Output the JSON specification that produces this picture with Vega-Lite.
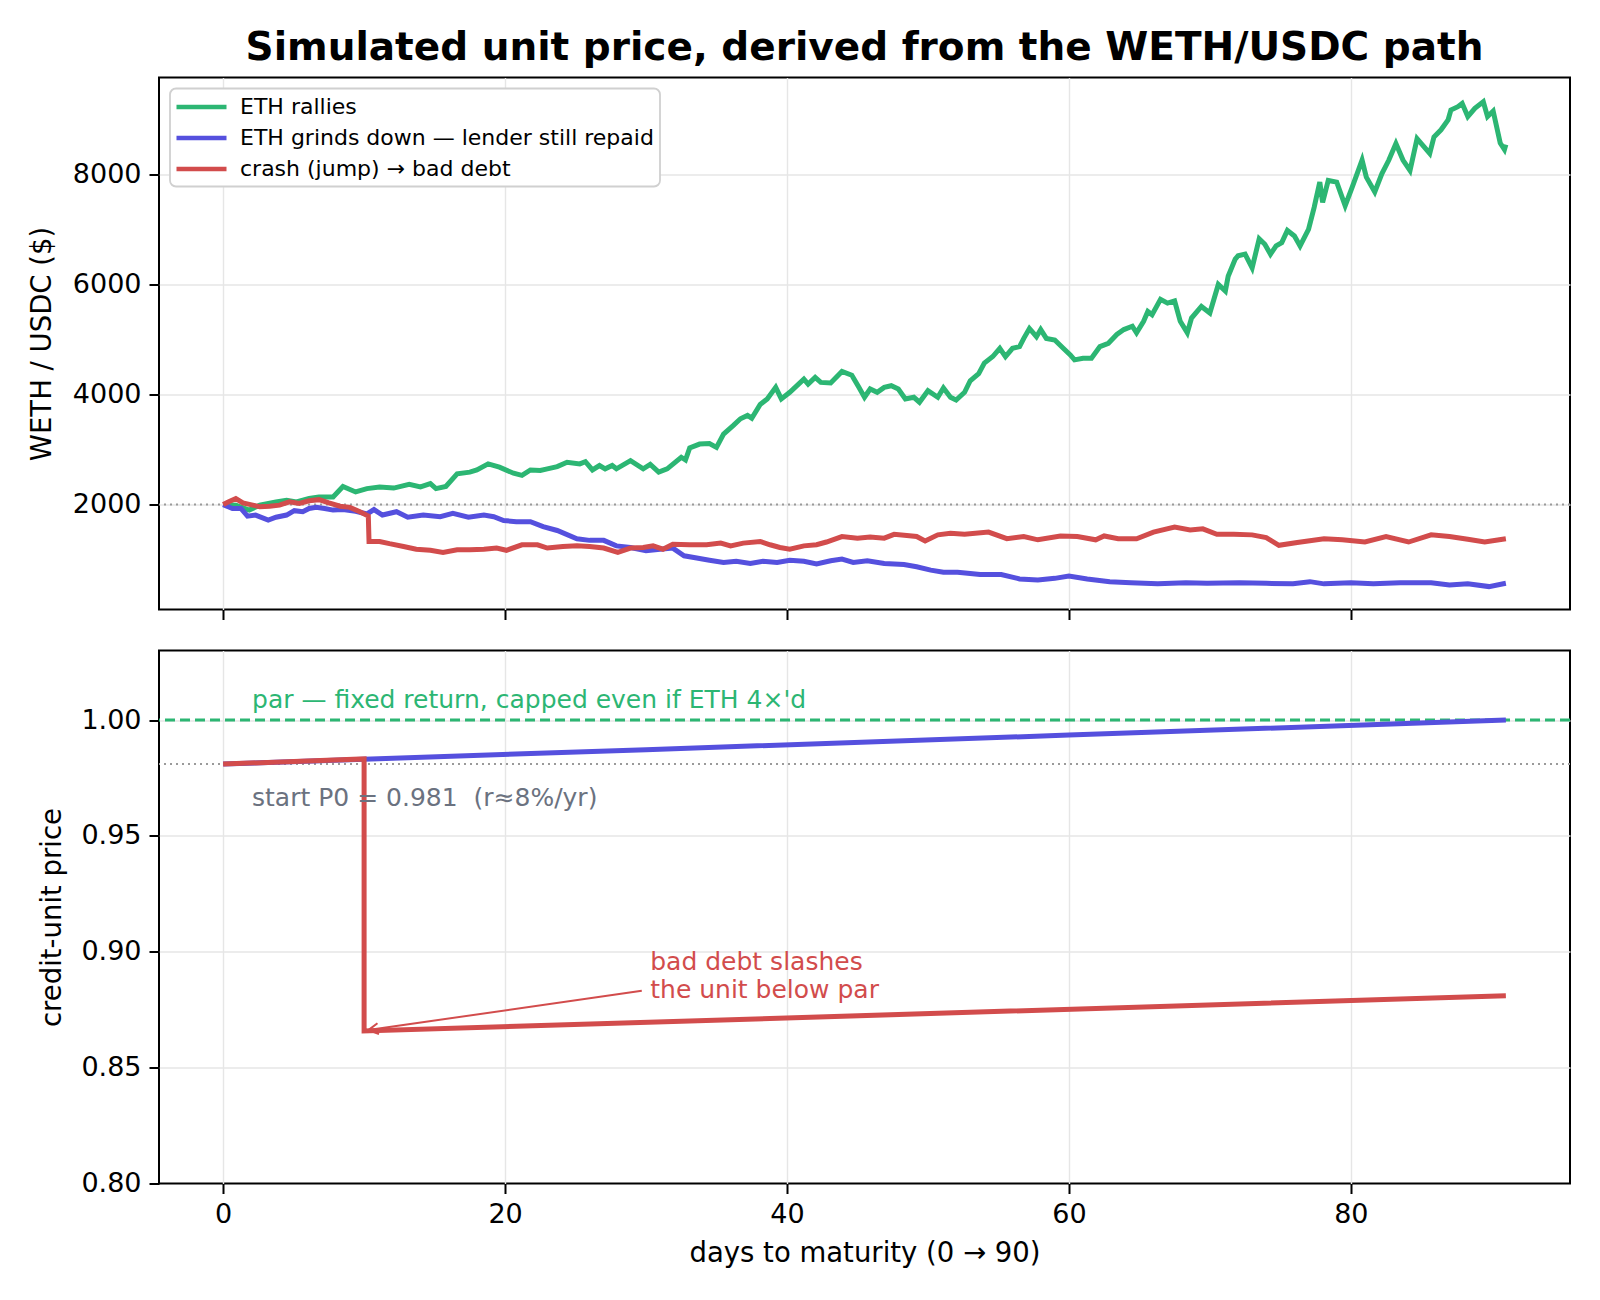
{
  "$schema": "https://vega.github.io/schema/vega-lite/v6.json",
  "background": "white",
  "padding": {"left": 27, "top": 27.5, "right": 30, "bottom": 20},
  "config": {
    "font": "DejaVu Sans",
    "view": {"stroke": "#000000", "strokeWidth": 2},
    "axis": {
      "domain": false,
      "grid": true,
      "gridColor": "#e6e6e6",
      "gridWidth": 1.4,
      "tickColor": "#000000",
      "tickWidth": 2,
      "tickSize": 10,
      "labelFontSize": 27,
      "labelColor": "#000000",
      "labelPadding": 8,
      "titleFontSize": 27.5,
      "titleFontWeight": "normal",
      "titleColor": "#000000"
    },
    "legend": {"strokeWidth": 1.8}
  },
  "datasets": {
    "paths": [
      {"series": "ETH rallies", "day": 0, "price": 2000},
      {"series": "ETH rallies", "day": 0.9, "price": 1990},
      {"series": "ETH rallies", "day": 1.85, "price": 1900},
      {"series": "ETH rallies", "day": 2.6, "price": 1990},
      {"series": "ETH rallies", "day": 3.75, "price": 2050},
      {"series": "ETH rallies", "day": 4.5, "price": 2080},
      {"series": "ETH rallies", "day": 5.2, "price": 2050},
      {"series": "ETH rallies", "day": 6.1, "price": 2110},
      {"series": "ETH rallies", "day": 6.8, "price": 2140},
      {"series": "ETH rallies", "day": 7.8, "price": 2140},
      {"series": "ETH rallies", "day": 8.5, "price": 2330},
      {"series": "ETH rallies", "day": 9.4, "price": 2230},
      {"series": "ETH rallies", "day": 10.2, "price": 2290},
      {"series": "ETH rallies", "day": 11.1, "price": 2320},
      {"series": "ETH rallies", "day": 12.1, "price": 2300},
      {"series": "ETH rallies", "day": 13.2, "price": 2370},
      {"series": "ETH rallies", "day": 14.0, "price": 2320},
      {"series": "ETH rallies", "day": 14.7, "price": 2380},
      {"series": "ETH rallies", "day": 15.1, "price": 2290},
      {"series": "ETH rallies", "day": 15.8, "price": 2330},
      {"series": "ETH rallies", "day": 16.6, "price": 2560},
      {"series": "ETH rallies", "day": 17.5, "price": 2590},
      {"series": "ETH rallies", "day": 18.0, "price": 2630},
      {"series": "ETH rallies", "day": 18.8, "price": 2740},
      {"series": "ETH rallies", "day": 19.6, "price": 2680},
      {"series": "ETH rallies", "day": 20.6, "price": 2570},
      {"series": "ETH rallies", "day": 21.2, "price": 2530},
      {"series": "ETH rallies", "day": 21.8, "price": 2630},
      {"series": "ETH rallies", "day": 22.5, "price": 2620},
      {"series": "ETH rallies", "day": 23.0, "price": 2650},
      {"series": "ETH rallies", "day": 23.7, "price": 2690},
      {"series": "ETH rallies", "day": 24.4, "price": 2770},
      {"series": "ETH rallies", "day": 25.3, "price": 2740},
      {"series": "ETH rallies", "day": 25.7, "price": 2780},
      {"series": "ETH rallies", "day": 26.2, "price": 2630},
      {"series": "ETH rallies", "day": 26.7, "price": 2710},
      {"series": "ETH rallies", "day": 27.1, "price": 2650},
      {"series": "ETH rallies", "day": 27.6, "price": 2710},
      {"series": "ETH rallies", "day": 27.9, "price": 2650},
      {"series": "ETH rallies", "day": 28.9, "price": 2800},
      {"series": "ETH rallies", "day": 29.8, "price": 2650},
      {"series": "ETH rallies", "day": 30.3, "price": 2730},
      {"series": "ETH rallies", "day": 30.9, "price": 2590},
      {"series": "ETH rallies", "day": 31.5, "price": 2650},
      {"series": "ETH rallies", "day": 32.5, "price": 2860},
      {"series": "ETH rallies", "day": 32.8, "price": 2810},
      {"series": "ETH rallies", "day": 33.1, "price": 3030},
      {"series": "ETH rallies", "day": 33.8, "price": 3100},
      {"series": "ETH rallies", "day": 34.5, "price": 3110},
      {"series": "ETH rallies", "day": 35.0, "price": 3040},
      {"series": "ETH rallies", "day": 35.5, "price": 3280},
      {"series": "ETH rallies", "day": 36.2, "price": 3440},
      {"series": "ETH rallies", "day": 36.7, "price": 3560},
      {"series": "ETH rallies", "day": 37.2, "price": 3620},
      {"series": "ETH rallies", "day": 37.5, "price": 3570},
      {"series": "ETH rallies", "day": 38.1, "price": 3820},
      {"series": "ETH rallies", "day": 38.6, "price": 3920},
      {"series": "ETH rallies", "day": 39.2, "price": 4130},
      {"series": "ETH rallies", "day": 39.6, "price": 3920},
      {"series": "ETH rallies", "day": 40.2, "price": 4040},
      {"series": "ETH rallies", "day": 41.2, "price": 4280},
      {"series": "ETH rallies", "day": 41.5, "price": 4190},
      {"series": "ETH rallies", "day": 42.0, "price": 4310},
      {"series": "ETH rallies", "day": 42.4, "price": 4220},
      {"series": "ETH rallies", "day": 43.1, "price": 4210},
      {"series": "ETH rallies", "day": 43.9, "price": 4420},
      {"series": "ETH rallies", "day": 44.6, "price": 4350},
      {"series": "ETH rallies", "day": 45.1, "price": 4130},
      {"series": "ETH rallies", "day": 45.5, "price": 3950},
      {"series": "ETH rallies", "day": 45.9, "price": 4100},
      {"series": "ETH rallies", "day": 46.4, "price": 4040},
      {"series": "ETH rallies", "day": 46.9, "price": 4130},
      {"series": "ETH rallies", "day": 47.4, "price": 4160},
      {"series": "ETH rallies", "day": 47.9, "price": 4100},
      {"series": "ETH rallies", "day": 48.4, "price": 3920},
      {"series": "ETH rallies", "day": 49.0, "price": 3950},
      {"series": "ETH rallies", "day": 49.4, "price": 3860},
      {"series": "ETH rallies", "day": 50.0, "price": 4070},
      {"series": "ETH rallies", "day": 50.7, "price": 3950},
      {"series": "ETH rallies", "day": 51.1, "price": 4120},
      {"series": "ETH rallies", "day": 51.6, "price": 3950},
      {"series": "ETH rallies", "day": 52.0, "price": 3900},
      {"series": "ETH rallies", "day": 52.6, "price": 4040},
      {"series": "ETH rallies", "day": 53.0, "price": 4250},
      {"series": "ETH rallies", "day": 53.6, "price": 4380},
      {"series": "ETH rallies", "day": 54.0, "price": 4570},
      {"series": "ETH rallies", "day": 54.6, "price": 4690},
      {"series": "ETH rallies", "day": 55.1, "price": 4840},
      {"series": "ETH rallies", "day": 55.5, "price": 4690},
      {"series": "ETH rallies", "day": 56.0, "price": 4840},
      {"series": "ETH rallies", "day": 56.5, "price": 4870},
      {"series": "ETH rallies", "day": 56.8, "price": 5020},
      {"series": "ETH rallies", "day": 57.2, "price": 5200},
      {"series": "ETH rallies", "day": 57.7, "price": 5050},
      {"series": "ETH rallies", "day": 58.0, "price": 5180},
      {"series": "ETH rallies", "day": 58.4, "price": 5020},
      {"series": "ETH rallies", "day": 59.0, "price": 4990},
      {"series": "ETH rallies", "day": 59.6, "price": 4840},
      {"series": "ETH rallies", "day": 60.1, "price": 4720},
      {"series": "ETH rallies", "day": 60.4, "price": 4630},
      {"series": "ETH rallies", "day": 61.0, "price": 4660},
      {"series": "ETH rallies", "day": 61.6, "price": 4660},
      {"series": "ETH rallies", "day": 62.2, "price": 4870},
      {"series": "ETH rallies", "day": 62.8, "price": 4930},
      {"series": "ETH rallies", "day": 63.4, "price": 5090},
      {"series": "ETH rallies", "day": 63.9, "price": 5180},
      {"series": "ETH rallies", "day": 64.5, "price": 5240},
      {"series": "ETH rallies", "day": 64.8, "price": 5120},
      {"series": "ETH rallies", "day": 65.3, "price": 5330},
      {"series": "ETH rallies", "day": 65.6, "price": 5510},
      {"series": "ETH rallies", "day": 65.9, "price": 5450},
      {"series": "ETH rallies", "day": 66.5, "price": 5730},
      {"series": "ETH rallies", "day": 67.0, "price": 5660},
      {"series": "ETH rallies", "day": 67.5, "price": 5700},
      {"series": "ETH rallies", "day": 67.9, "price": 5330},
      {"series": "ETH rallies", "day": 68.4, "price": 5120},
      {"series": "ETH rallies", "day": 68.7, "price": 5390},
      {"series": "ETH rallies", "day": 69.4, "price": 5600},
      {"series": "ETH rallies", "day": 70.0, "price": 5480},
      {"series": "ETH rallies", "day": 70.6, "price": 6000},
      {"series": "ETH rallies", "day": 71.1, "price": 5880},
      {"series": "ETH rallies", "day": 71.3, "price": 6150},
      {"series": "ETH rallies", "day": 71.8, "price": 6460},
      {"series": "ETH rallies", "day": 72.0, "price": 6520},
      {"series": "ETH rallies", "day": 72.5, "price": 6550},
      {"series": "ETH rallies", "day": 73.0, "price": 6300},
      {"series": "ETH rallies", "day": 73.5, "price": 6830},
      {"series": "ETH rallies", "day": 73.9, "price": 6730},
      {"series": "ETH rallies", "day": 74.3, "price": 6550},
      {"series": "ETH rallies", "day": 74.7, "price": 6700},
      {"series": "ETH rallies", "day": 75.1, "price": 6760},
      {"series": "ETH rallies", "day": 75.5, "price": 6980},
      {"series": "ETH rallies", "day": 76.0, "price": 6880},
      {"series": "ETH rallies", "day": 76.4, "price": 6700},
      {"series": "ETH rallies", "day": 77.0, "price": 7000},
      {"series": "ETH rallies", "day": 77.4, "price": 7400},
      {"series": "ETH rallies", "day": 77.8, "price": 7860},
      {"series": "ETH rallies", "day": 78.0, "price": 7490},
      {"series": "ETH rallies", "day": 78.4, "price": 7890},
      {"series": "ETH rallies", "day": 79.0, "price": 7860},
      {"series": "ETH rallies", "day": 79.6, "price": 7430},
      {"series": "ETH rallies", "day": 80.1, "price": 7770},
      {"series": "ETH rallies", "day": 80.8, "price": 8260},
      {"series": "ETH rallies", "day": 81.1, "price": 7950},
      {"series": "ETH rallies", "day": 81.7, "price": 7680},
      {"series": "ETH rallies", "day": 82.2, "price": 8010},
      {"series": "ETH rallies", "day": 82.7, "price": 8260},
      {"series": "ETH rallies", "day": 83.2, "price": 8560},
      {"series": "ETH rallies", "day": 83.7, "price": 8260},
      {"series": "ETH rallies", "day": 84.2, "price": 8070},
      {"series": "ETH rallies", "day": 84.7, "price": 8650},
      {"series": "ETH rallies", "day": 85.2, "price": 8500},
      {"series": "ETH rallies", "day": 85.6, "price": 8380},
      {"series": "ETH rallies", "day": 85.9, "price": 8680},
      {"series": "ETH rallies", "day": 86.4, "price": 8810},
      {"series": "ETH rallies", "day": 86.9, "price": 8990},
      {"series": "ETH rallies", "day": 87.1, "price": 9170},
      {"series": "ETH rallies", "day": 87.6, "price": 9230},
      {"series": "ETH rallies", "day": 87.9, "price": 9290},
      {"series": "ETH rallies", "day": 88.3, "price": 9050},
      {"series": "ETH rallies", "day": 88.8, "price": 9200},
      {"series": "ETH rallies", "day": 89.4, "price": 9320},
      {"series": "ETH rallies", "day": 89.7, "price": 9050},
      {"series": "ETH rallies", "day": 90.1, "price": 9150},
      {"series": "ETH rallies", "day": 90.6, "price": 8570},
      {"series": "ETH rallies", "day": 90.9, "price": 8450},
      {"series": "ETH rallies", "day": 91.0, "price": 8540},

      {"series": "ETH grinds down — lender still repaid", "day": 0, "price": 2000},
      {"series": "ETH grinds down — lender still repaid", "day": 0.66, "price": 1930},
      {"series": "ETH grinds down — lender still repaid", "day": 1.26, "price": 1930},
      {"series": "ETH grinds down — lender still repaid", "day": 1.73, "price": 1790},
      {"series": "ETH grinds down — lender still repaid", "day": 2.3, "price": 1810},
      {"series": "ETH grinds down — lender still repaid", "day": 3.2, "price": 1720},
      {"series": "ETH grinds down — lender still repaid", "day": 3.75, "price": 1770},
      {"series": "ETH grinds down — lender still repaid", "day": 4.5, "price": 1810},
      {"series": "ETH grinds down — lender still repaid", "day": 5.05, "price": 1890},
      {"series": "ETH grinds down — lender still repaid", "day": 5.65, "price": 1870},
      {"series": "ETH grinds down — lender still repaid", "day": 6.1, "price": 1930},
      {"series": "ETH grinds down — lender still repaid", "day": 6.6, "price": 1950},
      {"series": "ETH grinds down — lender still repaid", "day": 7.2, "price": 1930},
      {"series": "ETH grinds down — lender still repaid", "day": 7.8, "price": 1900},
      {"series": "ETH grinds down — lender still repaid", "day": 8.5, "price": 1910},
      {"series": "ETH grinds down — lender still repaid", "day": 9.4, "price": 1880},
      {"series": "ETH grinds down — lender still repaid", "day": 10.2, "price": 1830},
      {"series": "ETH grinds down — lender still repaid", "day": 10.7, "price": 1910},
      {"series": "ETH grinds down — lender still repaid", "day": 11.3, "price": 1810},
      {"series": "ETH grinds down — lender still repaid", "day": 12.3, "price": 1870},
      {"series": "ETH grinds down — lender still repaid", "day": 13.1, "price": 1770},
      {"series": "ETH grinds down — lender still repaid", "day": 14.2, "price": 1810},
      {"series": "ETH grinds down — lender still repaid", "day": 15.4, "price": 1780},
      {"series": "ETH grinds down — lender still repaid", "day": 16.3, "price": 1840},
      {"series": "ETH grinds down — lender still repaid", "day": 17.4, "price": 1770},
      {"series": "ETH grinds down — lender still repaid", "day": 18.5, "price": 1810},
      {"series": "ETH grinds down — lender still repaid", "day": 19.2, "price": 1780},
      {"series": "ETH grinds down — lender still repaid", "day": 19.9, "price": 1710},
      {"series": "ETH grinds down — lender still repaid", "day": 20.8, "price": 1690},
      {"series": "ETH grinds down — lender still repaid", "day": 21.8, "price": 1690},
      {"series": "ETH grinds down — lender still repaid", "day": 22.7, "price": 1600},
      {"series": "ETH grinds down — lender still repaid", "day": 23.7, "price": 1530},
      {"series": "ETH grinds down — lender still repaid", "day": 25.1, "price": 1380},
      {"series": "ETH grinds down — lender still repaid", "day": 26.0, "price": 1350},
      {"series": "ETH grinds down — lender still repaid", "day": 27.0, "price": 1350},
      {"series": "ETH grinds down — lender still repaid", "day": 27.9, "price": 1250},
      {"series": "ETH grinds down — lender still repaid", "day": 28.9, "price": 1220},
      {"series": "ETH grinds down — lender still repaid", "day": 30.0, "price": 1160},
      {"series": "ETH grinds down — lender still repaid", "day": 31.0, "price": 1190},
      {"series": "ETH grinds down — lender still repaid", "day": 31.9, "price": 1210},
      {"series": "ETH grinds down — lender still repaid", "day": 32.7, "price": 1070},
      {"series": "ETH grinds down — lender still repaid", "day": 33.6, "price": 1030},
      {"series": "ETH grinds down — lender still repaid", "day": 34.5, "price": 990},
      {"series": "ETH grinds down — lender still repaid", "day": 35.5, "price": 950},
      {"series": "ETH grinds down — lender still repaid", "day": 36.4, "price": 970},
      {"series": "ETH grinds down — lender still repaid", "day": 37.4, "price": 930},
      {"series": "ETH grinds down — lender still repaid", "day": 38.3, "price": 970},
      {"series": "ETH grinds down — lender still repaid", "day": 39.3, "price": 950},
      {"series": "ETH grinds down — lender still repaid", "day": 40.2, "price": 990},
      {"series": "ETH grinds down — lender still repaid", "day": 41.2, "price": 970},
      {"series": "ETH grinds down — lender still repaid", "day": 42.1, "price": 920},
      {"series": "ETH grinds down — lender still repaid", "day": 43.1, "price": 980},
      {"series": "ETH grinds down — lender still repaid", "day": 43.9, "price": 1010},
      {"series": "ETH grinds down — lender still repaid", "day": 44.7, "price": 950},
      {"series": "ETH grinds down — lender still repaid", "day": 45.7, "price": 980},
      {"series": "ETH grinds down — lender still repaid", "day": 46.9, "price": 930},
      {"series": "ETH grinds down — lender still repaid", "day": 48.3, "price": 910},
      {"series": "ETH grinds down — lender still repaid", "day": 49.2, "price": 870},
      {"series": "ETH grinds down — lender still repaid", "day": 50.2, "price": 810},
      {"series": "ETH grinds down — lender still repaid", "day": 51.1, "price": 770},
      {"series": "ETH grinds down — lender still repaid", "day": 52.1, "price": 770},
      {"series": "ETH grinds down — lender still repaid", "day": 53.0, "price": 750},
      {"series": "ETH grinds down — lender still repaid", "day": 53.7, "price": 730},
      {"series": "ETH grinds down — lender still repaid", "day": 55.2, "price": 730},
      {"series": "ETH grinds down — lender still repaid", "day": 56.5, "price": 650},
      {"series": "ETH grinds down — lender still repaid", "day": 57.8, "price": 630},
      {"series": "ETH grinds down — lender still repaid", "day": 59.0, "price": 660},
      {"series": "ETH grinds down — lender still repaid", "day": 60.0, "price": 700},
      {"series": "ETH grinds down — lender still repaid", "day": 61.3, "price": 650},
      {"series": "ETH grinds down — lender still repaid", "day": 62.9, "price": 600},
      {"series": "ETH grinds down — lender still repaid", "day": 64.4, "price": 580},
      {"series": "ETH grinds down — lender still repaid", "day": 66.3, "price": 560},
      {"series": "ETH grinds down — lender still repaid", "day": 68.3, "price": 580},
      {"series": "ETH grinds down — lender still repaid", "day": 69.8, "price": 570},
      {"series": "ETH grinds down — lender still repaid", "day": 72.1, "price": 580},
      {"series": "ETH grinds down — lender still repaid", "day": 74.0, "price": 570},
      {"series": "ETH grinds down — lender still repaid", "day": 75.9, "price": 560},
      {"series": "ETH grinds down — lender still repaid", "day": 77.1, "price": 600},
      {"series": "ETH grinds down — lender still repaid", "day": 78.1, "price": 560},
      {"series": "ETH grinds down — lender still repaid", "day": 80.0, "price": 580},
      {"series": "ETH grinds down — lender still repaid", "day": 81.6, "price": 560},
      {"series": "ETH grinds down — lender still repaid", "day": 83.5, "price": 580},
      {"series": "ETH grinds down — lender still repaid", "day": 85.7, "price": 580},
      {"series": "ETH grinds down — lender still repaid", "day": 87.0, "price": 540},
      {"series": "ETH grinds down — lender still repaid", "day": 88.3, "price": 560},
      {"series": "ETH grinds down — lender still repaid", "day": 89.8, "price": 510},
      {"series": "ETH grinds down — lender still repaid", "day": 91.0, "price": 570},

      {"series": "crash (jump) → bad debt", "day": 0, "price": 2000},
      {"series": "crash (jump) → bad debt", "day": 0.4, "price": 2050},
      {"series": "crash (jump) → bad debt", "day": 0.9, "price": 2110},
      {"series": "crash (jump) → bad debt", "day": 1.4, "price": 2030},
      {"series": "crash (jump) → bad debt", "day": 2.1, "price": 1990},
      {"series": "crash (jump) → bad debt", "day": 2.6, "price": 1960},
      {"series": "crash (jump) → bad debt", "day": 3.3, "price": 1970},
      {"series": "crash (jump) → bad debt", "day": 4.0, "price": 1990},
      {"series": "crash (jump) → bad debt", "day": 4.7, "price": 2050},
      {"series": "crash (jump) → bad debt", "day": 5.4, "price": 2020},
      {"series": "crash (jump) → bad debt", "day": 6.1, "price": 2070},
      {"series": "crash (jump) → bad debt", "day": 6.8, "price": 2090},
      {"series": "crash (jump) → bad debt", "day": 7.5, "price": 2030},
      {"series": "crash (jump) → bad debt", "day": 8.3, "price": 1970},
      {"series": "crash (jump) → bad debt", "day": 9.0, "price": 1950},
      {"series": "crash (jump) → bad debt", "day": 9.7, "price": 1870},
      {"series": "crash (jump) → bad debt", "day": 10.3, "price": 1790},
      {"series": "crash (jump) → bad debt", "day": 10.35, "price": 1330},
      {"series": "crash (jump) → bad debt", "day": 11.1, "price": 1330},
      {"series": "crash (jump) → bad debt", "day": 11.8, "price": 1290},
      {"series": "crash (jump) → bad debt", "day": 12.8, "price": 1240},
      {"series": "crash (jump) → bad debt", "day": 13.7, "price": 1190},
      {"series": "crash (jump) → bad debt", "day": 14.7, "price": 1170},
      {"series": "crash (jump) → bad debt", "day": 15.6, "price": 1130},
      {"series": "crash (jump) → bad debt", "day": 16.6, "price": 1180},
      {"series": "crash (jump) → bad debt", "day": 17.5, "price": 1180},
      {"series": "crash (jump) → bad debt", "day": 18.5, "price": 1190},
      {"series": "crash (jump) → bad debt", "day": 19.4, "price": 1210},
      {"series": "crash (jump) → bad debt", "day": 20.1, "price": 1170},
      {"series": "crash (jump) → bad debt", "day": 21.2, "price": 1270},
      {"series": "crash (jump) → bad debt", "day": 22.3, "price": 1270},
      {"series": "crash (jump) → bad debt", "day": 23.0, "price": 1210},
      {"series": "crash (jump) → bad debt", "day": 24.1, "price": 1240},
      {"series": "crash (jump) → bad debt", "day": 25.1, "price": 1250},
      {"series": "crash (jump) → bad debt", "day": 26.0, "price": 1240},
      {"series": "crash (jump) → bad debt", "day": 27.0, "price": 1210},
      {"series": "crash (jump) → bad debt", "day": 28.0, "price": 1130},
      {"series": "crash (jump) → bad debt", "day": 28.9, "price": 1210},
      {"series": "crash (jump) → bad debt", "day": 29.8, "price": 1220},
      {"series": "crash (jump) → bad debt", "day": 30.5, "price": 1250},
      {"series": "crash (jump) → bad debt", "day": 31.2, "price": 1190},
      {"series": "crash (jump) → bad debt", "day": 31.9, "price": 1280},
      {"series": "crash (jump) → bad debt", "day": 33.1, "price": 1270},
      {"series": "crash (jump) → bad debt", "day": 34.3, "price": 1270},
      {"series": "crash (jump) → bad debt", "day": 35.3, "price": 1300},
      {"series": "crash (jump) → bad debt", "day": 36.0, "price": 1250},
      {"series": "crash (jump) → bad debt", "day": 36.9, "price": 1300},
      {"series": "crash (jump) → bad debt", "day": 38.1, "price": 1330},
      {"series": "crash (jump) → bad debt", "day": 38.8, "price": 1270},
      {"series": "crash (jump) → bad debt", "day": 39.5, "price": 1220},
      {"series": "crash (jump) → bad debt", "day": 40.2, "price": 1190},
      {"series": "crash (jump) → bad debt", "day": 41.2, "price": 1250},
      {"series": "crash (jump) → bad debt", "day": 42.1, "price": 1270},
      {"series": "crash (jump) → bad debt", "day": 42.8, "price": 1320},
      {"series": "crash (jump) → bad debt", "day": 43.9, "price": 1420},
      {"series": "crash (jump) → bad debt", "day": 45.0, "price": 1390},
      {"series": "crash (jump) → bad debt", "day": 45.9, "price": 1410},
      {"series": "crash (jump) → bad debt", "day": 46.9, "price": 1390},
      {"series": "crash (jump) → bad debt", "day": 47.6, "price": 1460},
      {"series": "crash (jump) → bad debt", "day": 48.5, "price": 1440},
      {"series": "crash (jump) → bad debt", "day": 49.2, "price": 1420},
      {"series": "crash (jump) → bad debt", "day": 49.8, "price": 1340},
      {"series": "crash (jump) → bad debt", "day": 50.7, "price": 1450},
      {"series": "crash (jump) → bad debt", "day": 51.6, "price": 1480},
      {"series": "crash (jump) → bad debt", "day": 52.6, "price": 1460},
      {"series": "crash (jump) → bad debt", "day": 54.3, "price": 1500},
      {"series": "crash (jump) → bad debt", "day": 55.6, "price": 1380},
      {"series": "crash (jump) → bad debt", "day": 56.8, "price": 1420},
      {"series": "crash (jump) → bad debt", "day": 57.8, "price": 1360},
      {"series": "crash (jump) → bad debt", "day": 59.4, "price": 1430},
      {"series": "crash (jump) → bad debt", "day": 60.6, "price": 1420},
      {"series": "crash (jump) → bad debt", "day": 61.9, "price": 1360},
      {"series": "crash (jump) → bad debt", "day": 62.5, "price": 1430},
      {"series": "crash (jump) → bad debt", "day": 63.5, "price": 1380},
      {"series": "crash (jump) → bad debt", "day": 64.8, "price": 1380},
      {"series": "crash (jump) → bad debt", "day": 66.0, "price": 1500},
      {"series": "crash (jump) → bad debt", "day": 67.5, "price": 1590},
      {"series": "crash (jump) → bad debt", "day": 68.6, "price": 1540},
      {"series": "crash (jump) → bad debt", "day": 69.5, "price": 1560},
      {"series": "crash (jump) → bad debt", "day": 70.5, "price": 1460},
      {"series": "crash (jump) → bad debt", "day": 71.7, "price": 1460},
      {"series": "crash (jump) → bad debt", "day": 73.0, "price": 1450},
      {"series": "crash (jump) → bad debt", "day": 74.0, "price": 1400},
      {"series": "crash (jump) → bad debt", "day": 74.9, "price": 1260},
      {"series": "crash (jump) → bad debt", "day": 76.2, "price": 1310},
      {"series": "crash (jump) → bad debt", "day": 78.1, "price": 1380},
      {"series": "crash (jump) → bad debt", "day": 79.4, "price": 1360},
      {"series": "crash (jump) → bad debt", "day": 81.0, "price": 1320},
      {"series": "crash (jump) → bad debt", "day": 82.5, "price": 1420},
      {"series": "crash (jump) → bad debt", "day": 84.1, "price": 1320},
      {"series": "crash (jump) → bad debt", "day": 85.7, "price": 1450},
      {"series": "crash (jump) → bad debt", "day": 87.0, "price": 1420},
      {"series": "crash (jump) → bad debt", "day": 88.3, "price": 1370},
      {"series": "crash (jump) → bad debt", "day": 89.5, "price": 1320},
      {"series": "crash (jump) → bad debt", "day": 91.0, "price": 1380}
    ],
    "units": [
      {"series": "ETH grinds down — lender still repaid", "k": 0, "day": 0, "unit": 0.981},
      {"series": "ETH grinds down — lender still repaid", "k": 1, "day": 30, "unit": 0.9872},
      {"series": "ETH grinds down — lender still repaid", "k": 2, "day": 60, "unit": 0.9935},
      {"series": "ETH grinds down — lender still repaid", "k": 3, "day": 91, "unit": 1.0},
      {"series": "crash (jump) → bad debt", "k": 0, "day": 0, "unit": 0.981},
      {"series": "crash (jump) → bad debt", "k": 1, "day": 10, "unit": 0.9832},
      {"series": "crash (jump) → bad debt", "k": 2, "day": 10, "unit": 0.8658},
      {"series": "crash (jump) → bad debt", "k": 3, "day": 91, "unit": 0.881}
    ],
    "notes": [
      {"kind": "par", "day": 2.05, "val": 1.0086, "label": "par — fixed return, capped even if ETH 4×'d"},
      {"kind": "start", "day": 2.05, "val": 0.9665, "label": "start P0 = 0.981 \u00a0(r≈8%/yr)"},
      {"kind": "bad", "day": 30.3, "val": 0.8954, "label": "bad debt slashes"},
      {"kind": "bad", "day": 30.3, "val": 0.8835, "label": "the unit below par"}
    ],
    "arrow": [
      {"day": 29.7, "val": 0.8832, "day2": 10.3, "val2": 0.8662}
    ]
  },
  "spacing": 28,
  "resolve": {"scale": {"color": "independent"}, "legend": {"color": "independent"}},
  "vconcat": [
    {
      "width": 1411,
      "height": 532,
      "title": {
        "text": "Simulated unit price, derived from the WETH/USDC path",
        "fontSize": 39,
        "fontWeight": "bold",
        "color": "#000000",
        "anchor": "middle",
        "frame": "group",
        "baseline": "alphabetic",
        "offset": -21
      },
      "layer": [
        {
          "data": {"values": [{"ref": 2000}]},
          "mark": {"type": "rule", "color": "#9a9a9a", "strokeDash": [2, 4], "strokeWidth": 2},
          "encoding": {
            "y": {"field": "ref", "type": "quantitative", "scale": {"domain": [94, 9760], "nice": false, "zero": false}}
          }
        },
        {
          "data": {"name": "paths"},
          "mark": {"type": "line", "strokeWidth": 5},
          "encoding": {
            "x": {
              "field": "day", "type": "quantitative",
              "scale": {"domain": [-4.55, 95.55], "nice": false, "zero": false},
              "axis": {"values": [0, 20, 40, 60, 80], "labels": false, "title": null}
            },
            "y": {
              "field": "price", "type": "quantitative",
              "scale": {"domain": [94, 9760], "nice": false, "zero": false},
              "axis": {
                "values": [2000, 4000, 6000, 8000],
                "format": "d",
                "title": "WETH / USDC ($)",
                "titleX": -117,
                "titleY": 266,
                "titleAngle": 270,
                "titleBaseline": "middle",
                "titleAlign": "center"
              }
            },
            "color": {
              "field": "series", "type": "nominal",
              "scale": {
                "domain": ["ETH rallies", "ETH grinds down — lender still repaid", "crash (jump) → bad debt"],
                "range": ["#2cb673", "#5550de", "#d24c4c"]
              },
              "legend": {
                "title": null,
                "orient": "top-left",
                "offset": 11,
                "labelFontSize": 22,
                "labelColor": "#000000",
                "labelLimit": 700,
                "labelOffset": 26,
                "symbolType": "M-2.5,0L2.5,0",
                "symbolSize": 400,
                "symbolStrokeWidth": 4.7,
                "symbolOffset": 13,
                "strokeColor": "#d0d0d0",
                "fillColor": "#ffffff",
                "cornerRadius": 6,
                "padding": 6,
                "rowPadding": 7
              }
            }
          }
        }
      ]
    },
    {
      "width": 1411,
      "height": 533,
      "layer": [
        {
          "data": {"values": [{"ref": 1.0}]},
          "mark": {"type": "rule", "color": "#2cb673", "strokeDash": [10, 5], "strokeWidth": 3},
          "encoding": {
            "y": {"field": "ref", "type": "quantitative", "scale": {"domain": [0.8, 1.03], "nice": false, "zero": false}}
          }
        },
        {
          "data": {"values": [{"ref": 0.981}]},
          "mark": {"type": "rule", "color": "#9a9a9a", "strokeDash": [2, 4], "strokeWidth": 2},
          "encoding": {
            "y": {"field": "ref", "type": "quantitative"}
          }
        },
        {
          "data": {"name": "units"},
          "mark": {"type": "line", "strokeWidth": 5},
          "encoding": {
            "x": {
              "field": "day", "type": "quantitative",
              "scale": {"domain": [-4.55, 95.55], "nice": false, "zero": false},
              "axis": {
                "values": [0, 20, 40, 60, 80],
                "title": "days to maturity (0 → 90)",
                "titleY": 70,
                "titleBaseline": "middle"
              }
            },
            "y": {
              "field": "unit", "type": "quantitative",
              "scale": {"domain": [0.8, 1.03], "nice": false, "zero": false},
              "axis": {
                "values": [0.8, 0.85, 0.9, 0.95, 1.0],
                "format": ".2f",
                "gridOpacity": {"condition": {"test": "datum.value < 0.801", "value": 0}, "value": 1},
                "title": "credit-unit price",
                "titleX": -107,
                "titleY": 266.5,
                "titleAngle": 270,
                "titleBaseline": "middle",
                "titleAlign": "center"
              }
            },
            "order": {"field": "k", "type": "quantitative"},
            "color": {
              "field": "series", "type": "nominal",
              "scale": {
                "domain": ["ETH rallies", "ETH grinds down — lender still repaid", "crash (jump) → bad debt"],
                "range": ["#2cb673", "#5550de", "#d24c4c"]
              },
              "legend": null
            }
          }
        },
        {
          "data": {"name": "arrow"},
          "mark": {"type": "rule", "color": "#d24c4c", "strokeWidth": 2},
          "encoding": {
            "x": {"field": "day", "type": "quantitative"},
            "y": {"field": "val", "type": "quantitative"},
            "x2": {"field": "day2"},
            "y2": {"field": "val2"}
          }
        },
        {
          "data": {"name": "arrow"},
          "mark": {
            "type": "point",
            "shape": "M0,0L1,-0.55M0,0L1,0.55",
            "filled": false,
            "stroke": "#d24c4c",
            "strokeWidth": 2,
            "size": 400,
            "angle": 352,
            "opacity": 1
          },
          "encoding": {
            "x": {"field": "day2", "type": "quantitative"},
            "y": {"field": "val2", "type": "quantitative"}
          }
        },
        {
          "data": {"name": "notes"},
          "transform": [{"filter": "datum.kind === 'par'"}],
          "mark": {"type": "text", "align": "left", "baseline": "middle", "fontSize": 25, "color": "#2cb673"},
          "encoding": {
            "x": {"field": "day", "type": "quantitative"},
            "y": {"field": "val", "type": "quantitative"},
            "text": {"field": "label"}
          }
        },
        {
          "data": {"name": "notes"},
          "transform": [{"filter": "datum.kind === 'start'"}],
          "mark": {"type": "text", "align": "left", "baseline": "middle", "fontSize": 25, "color": "#6b7280"},
          "encoding": {
            "x": {"field": "day", "type": "quantitative"},
            "y": {"field": "val", "type": "quantitative"},
            "text": {"field": "label"}
          }
        },
        {
          "data": {"name": "notes"},
          "transform": [{"filter": "datum.kind === 'bad'"}],
          "mark": {"type": "text", "align": "left", "baseline": "middle", "fontSize": 25, "color": "#d24c4c"},
          "encoding": {
            "x": {"field": "day", "type": "quantitative"},
            "y": {"field": "val", "type": "quantitative"},
            "text": {"field": "label"}
          }
        }
      ]
    }
  ]
}
